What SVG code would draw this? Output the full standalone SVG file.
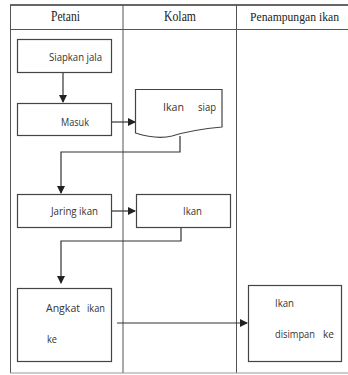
<svg xmlns="http://www.w3.org/2000/svg" width="348" height="375" viewBox="0 0 348 375">
<defs>
<style>
.frame{fill:none;stroke:#555;stroke-width:1}
.box{fill:#fff;stroke:#444;stroke-width:1.2}
.hdr{font-family:"Liberation Serif",serif;font-size:14px;fill:#222}
.lbl{font-family:"Open Sans","Liberation Sans",sans-serif;font-size:11.5px;fill:#333}
.con{fill:none;stroke:#333;stroke-width:1.2}
</style>
<marker id="ah" markerWidth="8" markerHeight="8" refX="7" refY="4" orient="auto" markerUnits="userSpaceOnUse">
<path d="M0,0 L8,4 L0,8 Z" fill="#222"/>
</marker>
</defs>
<rect width="348" height="375" fill="#fff"/>
<g id="lanes">
<line x1="10" y1="5" x2="348" y2="5" stroke="#666" stroke-width="2"/>
<line x1="10" y1="29.5" x2="348" y2="29.5" class="frame"/>
<line x1="10.5" y1="5" x2="10.5" y2="373" class="frame"/>
<line x1="123" y1="5" x2="123" y2="373" class="frame"/>
<line x1="236.5" y1="5" x2="236.5" y2="373" class="frame"/>
<line x1="10" y1="373" x2="348" y2="373" stroke="#999" stroke-width="1"/>
<text class="hdr" x="51" y="21" textLength="29" lengthAdjust="spacingAndGlyphs">Petani</text>
<text class="hdr" x="164" y="21" textLength="32" lengthAdjust="spacingAndGlyphs">Kolam</text>
<text class="hdr" x="250" y="21" style="font-size:12.5px" textLength="89" lengthAdjust="spacingAndGlyphs">Penampungan ikan</text>
</g>
<g id="connectors">
<line class="con" x1="63" y1="72" x2="63" y2="102" marker-end="url(#ah)"/>
<line class="con" x1="112" y1="122" x2="135" y2="122" marker-end="url(#ah)"/>
<polyline class="con" points="180,136 180,152 61,152 61,193" marker-end="url(#ah)"/>
<line class="con" x1="112" y1="211" x2="135" y2="211" marker-end="url(#ah)"/>
<polyline class="con" points="181,227 181,241 61,241 61,283" marker-end="url(#ah)"/>
<line class="con" x1="117" y1="323" x2="247" y2="323" marker-end="url(#ah)"/>
</g>
<g id="siapkan">
<rect class="box" x="17.5" y="39.5" width="94" height="33"/>
<text class="lbl" x="49" y="61" textLength="53" lengthAdjust="spacingAndGlyphs">Siapkan jala</text>
</g>
<g id="masuk">
<rect class="box" x="17.5" y="103.5" width="94" height="32"/>
<text class="lbl" x="61" y="126" textLength="28" lengthAdjust="spacingAndGlyphs">Masuk</text>
</g>
<g id="ikansiap">
<path class="box" d="M135.5,89.5 H222 V127 C200,129 185,132 172,136 C160,139 145,136 135.5,133 Z"/>
<text class="lbl" x="163" y="111" textLength="21" lengthAdjust="spacingAndGlyphs">Ikan</text>
<text class="lbl" x="198" y="111" textLength="18" lengthAdjust="spacingAndGlyphs">siap</text>
</g>
<g id="jaring">
<rect class="box" x="17.5" y="194.5" width="94" height="33"/>
<text class="lbl" x="51" y="215" textLength="47" lengthAdjust="spacingAndGlyphs">Jaring ikan</text>
</g>
<g id="ikan">
<rect class="box" x="136.5" y="194.5" width="94" height="33"/>
<text class="lbl" x="183" y="215" textLength="19" lengthAdjust="spacingAndGlyphs">Ikan</text>
</g>
<g id="angkat">
<rect class="box" x="17.5" y="288.5" width="94" height="73"/>
<text class="lbl" x="46" y="312" textLength="34" lengthAdjust="spacingAndGlyphs">Angkat</text>
<text class="lbl" x="87" y="312" textLength="18" lengthAdjust="spacingAndGlyphs">ikan</text>
<text class="lbl" x="47" y="343" textLength="10" lengthAdjust="spacingAndGlyphs">ke</text>
</g>
<g id="disimpan">
<rect class="box" x="248.5" y="285.5" width="93" height="76"/>
<text class="lbl" x="275" y="307" textLength="19" lengthAdjust="spacingAndGlyphs">Ikan</text>
<text class="lbl" x="275" y="338" textLength="40" lengthAdjust="spacingAndGlyphs">disimpan</text>
<text class="lbl" x="323" y="338" textLength="11" lengthAdjust="spacingAndGlyphs">ke</text>
</g>
</svg>
